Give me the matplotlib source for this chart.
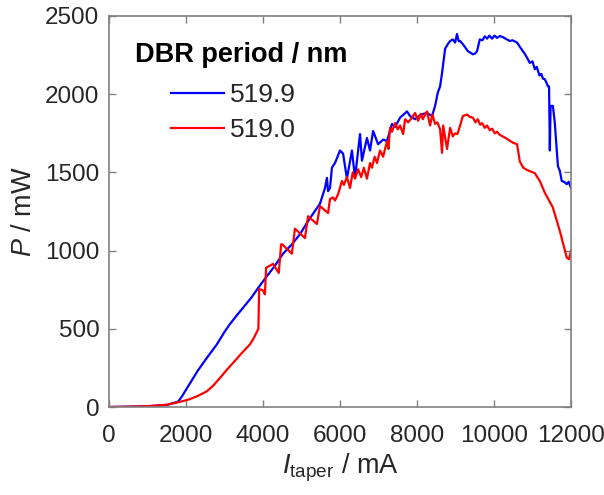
import matplotlib
matplotlib.use("Agg")
import matplotlib.pyplot as plt

plt.rcParams['font.family'] = ['Liberation Sans', 'DejaVu Sans']
plt.rcParams['mathtext.fontset'] = 'custom'
plt.rcParams['mathtext.rm'] = 'Liberation Sans'
plt.rcParams['mathtext.it'] = 'Liberation Sans:italic'

# ---- data (I_taper in mA, P in mW) ----
blue_label = "519.9"
blue_x = [0, 500, 1000, 1500, 1800, 1900, 2100, 2300, 2500, 2620, 2800, 3000, 3140, 3300,
          3500, 3700, 3870, 4050, 4300, 4520, 4750, 4960, 5200, 5480, 5610, 5660, 5690,
          5740, 5790, 5870, 6000, 6080, 6180, 6310, 6390, 6520, 6570, 6700, 6780, 6860,
          6990, 7120, 7220, 7350, 7430, 7560, 7740, 7820, 7950, 8100, 8260, 8390, 8470,
          8540, 8600, 8650, 8730, 8800, 8860, 8930, 8990, 9040, 9080, 9120, 9190, 9250,
          9320, 9390, 9450, 9510, 9560, 9630, 9700, 9760, 9820, 9880, 9950, 10010, 10080,
          10150, 10230, 10300, 10410, 10480, 10600, 10680, 10750, 10820, 10930, 11000,
          11060, 11110, 11180, 11230, 11270, 11320, 11370, 11400, 11430, 11450, 11470,
          11530, 11580, 11660, 11710, 11760, 11820, 11890, 11940, 12000]
blue_y = [0, 2, 5, 12, 35, 70, 150, 230, 300, 340, 400, 480, 530, 580,
          640, 700, 760, 820, 900, 980, 1040, 1105, 1200, 1300, 1400, 1465, 1380,
          1400, 1530, 1560, 1640, 1620, 1460, 1640, 1465, 1745, 1575, 1720, 1640, 1765,
          1680, 1710, 1700, 1810, 1790, 1850, 1890, 1860, 1840, 1870, 1880, 1860, 1925,
          2010, 2050, 2135, 2290, 2320, 2340, 2350, 2330, 2385, 2340, 2340, 2320, 2300,
          2275, 2265, 2255, 2260, 2275, 2350, 2345, 2370, 2355, 2375, 2355, 2375, 2360,
          2372, 2365, 2355, 2340, 2345, 2330, 2300, 2275, 2250, 2200, 2210,
          2160, 2175, 2120, 2130, 2100, 2095, 2070, 2050, 2050, 1640, 1925,
          1925, 1815, 1540, 1510, 1445, 1440, 1425, 1440, 1400]

red_label = "519.0"
red_x = [0, 500, 1000, 1500, 1800, 2100, 2300, 2540, 2700, 2880, 3050, 3270, 3450, 3660,
         3760, 3840, 3880, 3900, 4000,
         4050, 4080, 4260, 4410, 4470, 4500, 4750, 4830, 5090, 5170, 5400, 5480, 5690,
         5740, 5820, 5870, 5950, 6050, 6100, 6180, 6260, 6330, 6390, 6470, 6550, 6620,
         6700, 6780, 6830, 6900, 6960, 7040, 7120, 7220, 7260, 7300, 7350, 7430, 7500,
         7560, 7640, 7690, 7770, 7870, 7950, 8030, 8100, 8150, 8210, 8260, 8340, 8400,
         8470, 8530, 8600, 8650, 8680, 8780, 8860, 8930, 8990, 9050, 9120, 9190, 9300,
         9370, 9450, 9520, 9580, 9640, 9690, 9760, 9820, 9890, 9950, 10020, 10080, 10150,
         10300, 10490, 10600, 10670, 10760, 10860, 11060, 11190, 11320, 11530, 11710,
         11890, 11950, 12000]
red_y = [0, 2, 5, 15, 30, 50, 70, 100, 135, 185, 235, 295, 345, 400,
         440, 480, 500, 755, 745,
         720, 890, 915, 857, 1040, 1040, 980, 1140, 1080, 1220, 1170, 1285, 1240,
         1330, 1340, 1320, 1360, 1445, 1420, 1470, 1400, 1500, 1460, 1520, 1470, 1530,
         1460, 1560, 1530, 1600, 1560, 1640, 1600, 1700, 1650, 1785, 1760, 1815, 1775,
         1800, 1745, 1840, 1820, 1850, 1880, 1830, 1875, 1840, 1870, 1890, 1800, 1870,
         1810, 1820, 1775, 1625, 1800, 1650, 1785, 1730, 1750, 1745, 1800, 1860, 1870,
         1855, 1850, 1820, 1840, 1805, 1815, 1785, 1800, 1770, 1780, 1750, 1760, 1740,
         1720, 1690, 1680, 1570, 1530, 1515, 1495, 1445, 1370, 1275, 1125,
         955, 945, 1000]

legend_title = "DBR period / nm"
xticks = [0, 2000, 4000, 6000, 8000, 10000, 12000]
yticks = [0, 500, 1000, 1500, 2000, 2500]

# ---- figure ----
fig = plt.figure(figsize=(6.04, 4.95), dpi=100)
ax = fig.add_axes([109/604, 1 - 407/495, 462/604, 391/495])

ax.plot(blue_x, blue_y, color='#0000ff', lw=1.6, label=blue_label)
ax.plot(red_x, red_y, color='#ff0000', lw=1.6, label=red_label)

ax.set_xlim(0, 12000)
ax.set_ylim(0, 2500)
ax.set_xticks(xticks)
ax.set_yticks(yticks)

txtc = '#262626'
ax.tick_params(direction='in', top=True, right=True, length=5, width=1,
               labelsize=17.5, colors='#808080', labelcolor=txtc)
ax.tick_params(axis='x', pad=13)
ax.tick_params(axis='y', pad=7)
for s in ax.spines.values():
    s.set_color('#808080')
    s.set_linewidth(1.2)

ax.set_xlabel(r'$I_{\mathrm{taper}}$ / mA', fontsize=19.5, color=txtc, labelpad=3)
ax.set_ylabel(r'$P$ / mW', fontsize=19.5, color=txtc, labelpad=6)

ax.text((135 - 109) / 462, (407 - 55) / 391, legend_title, transform=ax.transAxes,
        fontsize=19.5, fontweight='bold', color='black', ha='left', va='center')

leg = ax.legend(loc='upper left', bbox_to_anchor=((171 - 109) / 462, (407 - 83) / 391),
                frameon=False, fontsize=19, borderpad=0, borderaxespad=0,
                handlelength=2.0, handletextpad=0.25, labelspacing=0.42)
for t in leg.get_texts():
    t.set_color(txtc)

fig.savefig('out.png', dpi=100)
